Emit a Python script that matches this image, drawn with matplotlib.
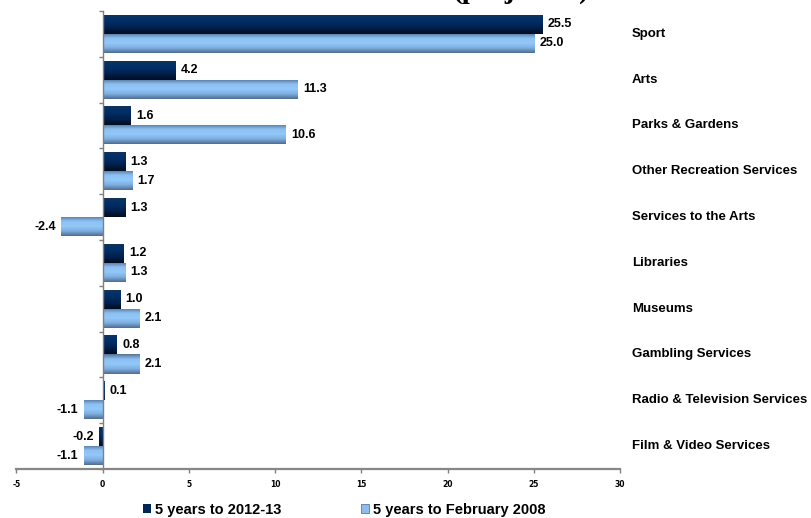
import numpy as np
import matplotlib
matplotlib.use("Agg")
import matplotlib.pyplot as plt
from matplotlib.colors import LinearSegmentedColormap
from matplotlib.patches import Rectangle
from matplotlib.transforms import blended_transform_factory, offset_copy

# Data
categories = ["Sport", "Arts", "Parks & Gardens", "Other Recreation Services",
              "Services to the Arts", "Libraries", "Museums", "Gambling Services",
              "Radio & Television Services", "Film & Video Services"]
recent = [25.5, 4.2, 1.6, 1.3, 1.3, 1.2, 1.0, 0.8, 0.1, -0.2]
earlier = [25.0, 11.3, 10.6, 1.7, -2.4, 1.3, 2.1, 2.1, -1.1, -1.1]
series_names = ["5 years to 2012-13", "5 years to February 2008"]
x_ticks = [-5, 0, 5, 10, 15, 20, 25, 30]

SANS = ["Liberation Sans", "DejaVu Sans"]

fig = plt.figure(figsize=(8.12, 5.18), dpi=100)
ax = fig.add_axes([0.0203, 0.0946, 0.7432, 0.8842])

y = np.arange(len(categories))
h = 0.415

dark_cmap = LinearSegmentedColormap.from_list(
    "dark", ["#1a3252", "#00316a", "#002a5e", "#001d44", "#000d22"])
light_cmap = LinearSegmentedColormap.from_list(
    "light", ["#56759a", "#8cc0f2", "#93c8fa", "#7eaee0", "#4d6d92"])

bars_dark = ax.barh(y - h / 2, recent, height=h, color="none", edgecolor="none")
bars_light = ax.barh(y + h / 2, earlier, height=h, color="none", edgecolor="none")

grad = np.linspace(0, 1, 64).reshape(-1, 1)


def fill_gradient(bars, cmap):
    for p in bars:
        x0 = min(p.get_x(), p.get_x() + p.get_width())
        x1 = max(p.get_x(), p.get_x() + p.get_width())
        y0 = p.get_y()
        y1 = y0 + p.get_height()
        im = ax.imshow(grad, cmap=cmap, aspect="auto", origin="upper",
                       extent=(x0, x1, y1, y0), interpolation="bilinear",
                       zorder=2)
        im.set_clip_path(p)


fill_gradient(bars_dark, dark_cmap)
fill_gradient(bars_light, light_cmap)

# Value labels
for bars, vals in ((bars_dark, recent), (bars_light, earlier)):
    for p, v in zip(bars, vals):
        yc = p.get_y() + p.get_height() / 2
        off, ha = (4, "left") if v >= 0 else (-4, "right")
        ax.annotate(f"{v:.1f}", (v, yc), xytext=(off, 0), textcoords="offset points",
                    ha=ha, va="center", fontsize=9, fontweight="bold",
                    family=SANS, color="black")

ax.set_xlim(-5, 30)
ax.set_ylim(len(categories) - 0.5, -0.5)

# Axes styling
for s in ("top", "right"):
    ax.spines[s].set_visible(False)
ax.spines["left"].set_position(("data", 0))
ax.spines["left"].set_color("#808080")
ax.spines["left"].set_linewidth(1.0)
ax.spines["bottom"].set_color("#868686")
ax.spines["bottom"].set_linewidth(1.6)

ax.set_xticks(x_ticks)
ax.set_xticklabels([str(t) for t in x_ticks])
ax.tick_params(axis="x", direction="out", length=3, width=1, color="#808080",
               pad=5, labelsize=5.5)
for lbl in ax.get_xticklabels():
    lbl.set_fontweight("bold")
    lbl.set_family(["DejaVu Sans"])

# Category boundaries as ticks on the zero line; names to the right of the plot
ax.set_yticks([])
ax.set_yticks(np.arange(len(categories) + 1) - 0.5, minor=True)
ax.tick_params(axis="y", which="minor", left=True, direction="out",
               length=3, width=1, color="#808080", labelleft=False)
trans = offset_copy(blended_transform_factory(ax.transAxes, ax.transData),
                    fig=fig, x=12, y=0, units="dots")
for yi, name in zip(y, categories):
    ax.text(1.0, yi, name, transform=trans, ha="left", va="center",
            fontsize=9.5, fontweight="bold", family=SANS, color="black",
            clip_on=False)

# Legend
handles = [Rectangle((0, 0), 1, 1, facecolor="#002654", edgecolor="none"),
           Rectangle((0, 0), 1, 1, facecolor="#8dbdee", edgecolor="#5a7aa0", linewidth=0.6)]
fig.legend(handles, series_names, loc="center", bbox_to_anchor=(0.424, 0.0154),
           ncol=2, frameon=False, handlelength=0.55, handleheight=0.55,
           handletextpad=0.3, columnspacing=5.4,
           prop={"family": SANS, "weight": "bold", "size": 10.5})

# Title (its upper part lies above the canvas)
fig.text(0.6416, 1.004, "(projected)", ha="center", va="baseline",
         family=["Liberation Serif", "DejaVu Serif"], fontweight="bold", fontsize=21)

fig.savefig("out.png", dpi=100)
